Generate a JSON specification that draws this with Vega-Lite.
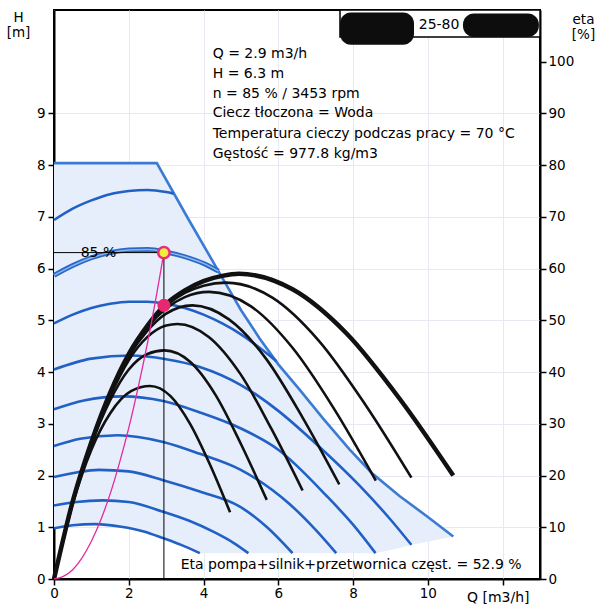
{
"$schema": "https://vega.github.io/schema/vega-lite/v6.json",
"width": 486, "height": 569,
"autosize": {"type": "none"},
"padding": {"left": 54, "top": 10, "right": 56, "bottom": 29},
"background": "white",
"config": {
  "view": {"stroke": "black", "strokeWidth": 2},
  "font": "DejaVu Sans",
  "axis": {"labelFont": "DejaVu Sans", "labelFontSize": 13.5, "labelColor": "black", "titleFont": "DejaVu Sans", "titleFontWeight": "normal", "titleColor": "black", "titleFontSize": 13.5, "domainColor": "black", "domainWidth": 2, "tickColor": "black", "tickWidth": 1.5, "tickSize": 6, "gridColor": "#e8e8f2", "gridWidth": 1}
},
"datasets": {
  "fill": [
    {"Q":0,"top":8.04,"bot":0.98},{"Q":0.5,"top":8.04,"bot":1.04},{"Q":1.1,"top":8.04,"bot":1.06},{"Q":1.8,"top":8.04,"bot":1.01},{"Q":2.4,"top":8.04,"bot":0.92},{"Q":2.75,"top":8.04,"bot":0.84},{"Q":2.92,"top":7.82,"bot":0.79},{"Q":3.4,"top":7.21,"bot":0.66},{"Q":3.6,"top":6.95,"bot":0.6},{"Q":3.9,"top":6.57,"bot":0.5},{"Q":4.44,"top":5.9,"bot":0.5},{"Q":5.0,"top":5.2,"bot":0.5},{"Q":5.5,"top":4.65,"bot":0.5},{"Q":6.0,"top":4.15,"bot":0.5},{"Q":6.58,"top":3.65,"bot":0.5},{"Q":7.2,"top":3.1,"bot":0.5},{"Q":7.91,"top":2.5,"bot":0.5},{"Q":8.6,"top":1.99,"bot":0.5},{"Q":9.25,"top":1.6,"bot":0.6},{"Q":9.56,"top":1.43,"bot":0.66},{"Q":10.0,"top":1.2,"bot":0.72},{"Q":10.68,"top":0.82,"bot":0.82}
  ],
  "env": [
    {"Q":0,"H":8.04},{"Q":2.75,"H":8.04},{"Q":3.6,"H":6.95},{"Q":4.44,"H":5.9},{"Q":5.0,"H":5.2},{"Q":5.5,"H":4.65},{"Q":6.0,"H":4.15},{"Q":6.58,"H":3.65},{"Q":7.2,"H":3.1},{"Q":7.91,"H":2.5},{"Q":8.5,"H":2.05},{"Q":9.25,"H":1.6},{"Q":10.0,"H":1.2},{"Q":10.68,"H":0.82}
  ],
  "blue": [
    {"c":"b1","Q":0,"H":0.98},{"c":"b1","Q":0.5,"H":1.04},{"c":"b1","Q":1.1,"H":1.06},{"c":"b1","Q":1.8,"H":1.01},{"c":"b1","Q":2.4,"H":0.92},{"c":"b1","Q":2.92,"H":0.79},{"c":"b1","Q":3.4,"H":0.66},{"c":"b1","Q":3.9,"H":0.5},
    {"c":"b2","Q":0,"H":1.42},{"c":"b2","Q":0.6,"H":1.49},{"c":"b2","Q":1.3,"H":1.52},{"c":"b2","Q":2.0,"H":1.49},{"c":"b2","Q":2.92,"H":1.3},{"c":"b2","Q":3.6,"H":1.13},{"c":"b2","Q":4.3,"H":0.9},{"c":"b2","Q":4.8,"H":0.7},{"c":"b2","Q":5.2,"H":0.5},
    {"c":"b3","Q":0,"H":1.97},{"c":"b3","Q":0.6,"H":2.06},{"c":"b3","Q":1.2,"H":2.11},{"c":"b3","Q":2.0,"H":2.08},{"c":"b3","Q":2.92,"H":1.91},{"c":"b3","Q":3.9,"H":1.69},{"c":"b3","Q":4.97,"H":1.4},{"c":"b3","Q":5.7,"H":1.0},{"c":"b3","Q":6.38,"H":0.5},
    {"c":"b4","Q":0,"H":2.57},{"c":"b4","Q":0.7,"H":2.71},{"c":"b4","Q":1.7,"H":2.78},{"c":"b4","Q":2.92,"H":2.65},{"c":"b4","Q":3.9,"H":2.42},{"c":"b4","Q":4.97,"H":2.12},{"c":"b4","Q":6.3,"H":1.45},{"c":"b4","Q":7.0,"H":0.95},{"c":"b4","Q":7.55,"H":0.5},
    {"c":"b5","Q":0,"H":3.28},{"c":"b5","Q":0.8,"H":3.45},{"c":"b5","Q":1.85,"H":3.53},{"c":"b5","Q":2.92,"H":3.44},{"c":"b5","Q":3.9,"H":3.22},{"c":"b5","Q":4.97,"H":2.92},{"c":"b5","Q":6.0,"H":2.5},{"c":"b5","Q":7.3,"H":1.6},{"c":"b5","Q":8.0,"H":1.05},{"c":"b5","Q":8.6,"H":0.5},
    {"c":"b6","Q":0,"H":4.05},{"c":"b6","Q":1.0,"H":4.26},{"c":"b6","Q":2.05,"H":4.32},{"c":"b6","Q":3.0,"H":4.25},{"c":"b6","Q":3.9,"H":4.1},{"c":"b6","Q":5.0,"H":3.75},{"c":"b6","Q":6.0,"H":3.25},{"c":"b6","Q":7.0,"H":2.62},{"c":"b6","Q":8.18,"H":1.8},{"c":"b6","Q":9.0,"H":1.15},{"c":"b6","Q":9.56,"H":0.66},
    {"c":"b7","Q":0,"H":4.94},{"c":"b7","Q":0.5,"H":5.11},{"c":"b7","Q":1,"H":5.24},{"c":"b7","Q":1.5,"H":5.32},{"c":"b7","Q":2,"H":5.36},{"c":"b7","Q":2.5,"H":5.36},{"c":"b7","Q":3,"H":5.32},{"c":"b7","Q":3.5,"H":5.24},{"c":"b7","Q":4,"H":5.11},{"c":"b7","Q":4.5,"H":4.94},{"c":"b7","Q":5,"H":4.73},{"c":"b7","Q":5.5,"H":4.47},{"c":"b7","Q":5.95,"H":4.21},
    {"c":"b8","Q":0,"H":6.94},{"c":"b8","Q":0.5,"H":7.16},{"c":"b8","Q":1,"H":7.32},{"c":"b8","Q":1.5,"H":7.44},{"c":"b8","Q":2,"H":7.5},{"c":"b8","Q":2.5,"H":7.52},{"c":"b8","Q":3,"H":7.48},{"c":"b8","Q":3.2,"H":7.45}
  ],
  "b85": [
    {"Q":0,"H":5.87},{"Q":0.5,"H":6.06},{"Q":1,"H":6.21},{"Q":1.5,"H":6.31},{"Q":2,"H":6.36},{"Q":2.5,"H":6.37},{"Q":3,"H":6.32},{"Q":3.5,"H":6.23},{"Q":4,"H":6.1},{"Q":4.4,"H":5.95}
  ],
  "eta": [
    {"c":1,"Q":0,"eta":0},{"c":1,"Q":0.5,"eta":14.5},{"c":1,"Q":1.0,"eta":25},{"c":1,"Q":1.5,"eta":32},{"c":1,"Q":2.06,"eta":36.3},{"c":1,"Q":2.57,"eta":37.3},{"c":1,"Q":3.11,"eta":35.4},{"c":1,"Q":3.64,"eta":30},{"c":1,"Q":4.18,"eta":22},{"c":1,"Q":4.71,"eta":12.9},
    {"c":2,"Q":0,"eta":0},{"c":2,"Q":0.5,"eta":14.8},{"c":2,"Q":1.0,"eta":26},{"c":2,"Q":1.5,"eta":34.5},{"c":2,"Q":2.0,"eta":40.5},{"c":2,"Q":2.5,"eta":43.5},{"c":2,"Q":2.95,"eta":44.2},{"c":2,"Q":3.64,"eta":42},{"c":2,"Q":4.32,"eta":35.6},{"c":2,"Q":5.0,"eta":26.1},{"c":2,"Q":5.69,"eta":15.3},
    {"c":3,"Q":0,"eta":0},{"c":3,"Q":0.5,"eta":14.9},{"c":3,"Q":1.0,"eta":26.3},{"c":3,"Q":1.5,"eta":35.3},{"c":3,"Q":2.0,"eta":42.3},{"c":3,"Q":2.5,"eta":46.8},{"c":3,"Q":3.0,"eta":49},{"c":3,"Q":3.3,"eta":49.3},{"c":3,"Q":4.14,"eta":46.8},{"c":3,"Q":4.98,"eta":39.7},{"c":3,"Q":5.81,"eta":29.1},{"c":3,"Q":6.65,"eta":17.1},
    {"c":4,"Q":0,"eta":0},{"c":4,"Q":0.5,"eta":15},{"c":4,"Q":1.0,"eta":26.4},{"c":4,"Q":1.5,"eta":35.7},{"c":4,"Q":2.0,"eta":43},{"c":4,"Q":2.5,"eta":48},{"c":4,"Q":3.0,"eta":51.3},{"c":4,"Q":3.7,"eta":52.9},{"c":4,"Q":4.68,"eta":50.2},{"c":4,"Q":5.67,"eta":42.6},{"c":4,"Q":6.65,"eta":31.2},{"c":4,"Q":7.63,"eta":18.3},
    {"c":5,"Q":0,"eta":0},{"c":5,"Q":0.5,"eta":15},{"c":5,"Q":1.0,"eta":26.5},{"c":5,"Q":1.5,"eta":35.9},{"c":5,"Q":2.0,"eta":43.3},{"c":5,"Q":2.5,"eta":48.7},{"c":5,"Q":3.0,"eta":52.3},{"c":5,"Q":3.5,"eta":54.5},{"c":5,"Q":4.15,"eta":55.5},{"c":5,"Q":5.27,"eta":52.7},{"c":5,"Q":6.38,"eta":44.7},{"c":5,"Q":7.5,"eta":32.8},{"c":5,"Q":8.61,"eta":19},
    {"c":6,"Q":0,"eta":0},{"c":6,"Q":0.5,"eta":15},{"c":6,"Q":1.0,"eta":26.5},{"c":6,"Q":1.5,"eta":36},{"c":6,"Q":2.0,"eta":43.4},{"c":6,"Q":2.5,"eta":48.9},{"c":6,"Q":3.0,"eta":52.8},{"c":6,"Q":3.5,"eta":55.3},{"c":6,"Q":4.0,"eta":56.7},{"c":6,"Q":4.6,"eta":57.3},{"c":6,"Q":5.84,"eta":54.4},{"c":6,"Q":7.08,"eta":46.1},{"c":6,"Q":8.32,"eta":33.8},{"c":6,"Q":9.56,"eta":19.6},
    {"c":7,"Q":0,"eta":0},{"c":7,"Q":0.5,"eta":15},{"c":7,"Q":1.0,"eta":26.5},{"c":7,"Q":1.5,"eta":36},{"c":7,"Q":2.0,"eta":43.5},{"c":7,"Q":2.5,"eta":49},{"c":7,"Q":2.97,"eta":53},{"c":7,"Q":3.5,"eta":55.8},{"c":7,"Q":4.0,"eta":57.6},{"c":7,"Q":4.5,"eta":58.6},{"c":7,"Q":4.95,"eta":59},{"c":7,"Q":6.38,"eta":56},{"c":7,"Q":7.82,"eta":47.5},{"c":7,"Q":9.25,"eta":34.8},{"c":7,"Q":10.68,"eta":20}
  ],
  "sys": [
    {"Q":0,"H":0},{"Q":0.25,"H":0.05},{"Q":0.5,"H":0.18},{"Q":0.75,"H":0.41},{"Q":1.0,"H":0.73},{"Q":1.25,"H":1.14},{"Q":1.5,"H":1.64},{"Q":1.75,"H":2.24},{"Q":2.0,"H":2.92},{"Q":2.25,"H":3.7},{"Q":2.5,"H":4.56},{"Q":2.75,"H":5.52},{"Q":2.94,"H":6.31}
  ],
  "op": [{"Q0":0,"Q":2.94,"H0":0,"H":6.31,"He":5.29}],
  "box": [{"x1":7.65,"x2":13,"y1":10.48,"y2":11}],
  "blobs": [{"x1":7.65,"x2":9.63,"y1":10.33,"y2":10.95},{"x1":10.94,"x2":12.97,"y1":10.48,"y2":10.93}],
  "txtL": [
    {"Q":4.245,"H":10.14,"t":"Q = 2.9 m3/h"},
    {"Q":4.245,"H":9.77,"t":"H = 6.3 m"},
    {"Q":4.245,"H":9.38,"t":"n = 85 % / 3453 rpm"},
    {"Q":4.245,"H":9.0,"t":"Ciecz tłoczona = Woda"},
    {"Q":4.245,"H":8.61,"t":"Temperatura cieczy podczas pracy = 70 °C"},
    {"Q":4.245,"H":8.22,"t":"Gęstość = 977.8 kg/m3"},
    {"Q":3.39,"H":0.27,"t":"Eta pompa+silnik+przetwornica częst. = 52.9 %"}
  ],
  "txtC": [
    {"Q":1.19,"H":6.3,"t":"85 %"},
    {"Q":10.3,"H":10.71,"t":"25-80"}
  ]
},
"layer": [
  {
    "data": {"name": "fill"},
    "mark": {"type": "area", "color": "#e5eefa"},
    "encoding": {
      "x": {"field": "Q", "type": "quantitative", "scale": {"domain": [0, 13], "nice": false, "zero": false},
            "axis": {"values": [0,2,4,6,8,10,12], "labelExpr": "datum.value == 12 ? '' : datum.label", "title": "Q [m3/h]", "titleAlign": "right", "titleX": 475, "titleY": 22, "titleBaseline": "alphabetic", "titleFontSize": 14, "labelPadding": 1, "grid": true, "labelFlush": false}},
      "y": {"field": "top", "type": "quantitative", "scale": {"domain": [0, 11], "nice": false, "zero": false},
            "axis": {"orient": "left", "values": [0,1,2,3,4,5,6,7,8,9], "title": ["H", "[m]"], "titleAngle": 0, "titleAlign": "center", "titleBaseline": "top", "titleX": -36, "titleY": 0, "titleLineHeight": 15, "labelPadding": 3, "grid": true}},
      "y2": {"field": "bot"}
    }
  },
  {
    "data": {"name": "env"},
    "mark": {"type": "line", "color": "#3b7bd4", "strokeWidth": 2.6},
    "encoding": {
      "x": {"field": "Q", "type": "quantitative"},
      "y": {"field": "H", "type": "quantitative", "scale": {"domain": [0, 11], "nice": false, "zero": false}, "axis": null}
    }
  },
  {
    "data": {"name": "blue"},
    "mark": {"type": "line", "color": "#2160c4", "strokeWidth": 2.6, "interpolate": "monotone"},
    "encoding": {
      "x": {"field": "Q", "type": "quantitative"},
      "y": {"field": "H", "type": "quantitative", "scale": {"domain": [0, 11], "nice": false, "zero": false}, "axis": null},
      "detail": {"field": "c", "type": "nominal"}
    }
  },
  {
    "data": {"name": "b85"},
    "mark": {"type": "line", "color": "#2a68c8", "strokeWidth": 4.8, "interpolate": "monotone"},
    "encoding": {
      "x": {"field": "Q", "type": "quantitative"},
      "y": {"field": "H", "type": "quantitative", "scale": {"domain": [0, 11], "nice": false, "zero": false}, "axis": null}
    }
  },
  {
    "data": {"name": "b85"},
    "mark": {"type": "line", "color": "#8db6ec", "strokeWidth": 1.4, "interpolate": "monotone"},
    "encoding": {
      "x": {"field": "Q", "type": "quantitative"},
      "y": {"field": "H", "type": "quantitative", "scale": {"domain": [0, 11], "nice": false, "zero": false}, "axis": null}
    }
  },
  {
    "data": {"name": "eta"},
    "transform": [{"filter": "datum.c < 7"}],
    "mark": {"type": "line", "color": "#111111", "strokeWidth": 2.6, "interpolate": "monotone"},
    "encoding": {
      "x": {"field": "Q", "type": "quantitative"},
      "y": {"field": "eta", "type": "quantitative", "scale": {"domain": [0, 110], "nice": false, "zero": false},
            "axis": {"orient": "right", "values": [0,10,20,30,40,50,60,70,80,90,100], "title": ["eta", "[%]"], "titleAngle": 0, "titleAlign": "center", "titleBaseline": "top", "titleX": 43, "titleY": 2, "titleLineHeight": 15, "labelPadding": 2, "grid": false}},
      "detail": {"field": "c", "type": "nominal"}
    }
  },
  {
    "data": {"name": "eta"},
    "transform": [{"filter": "datum.c == 7"}],
    "mark": {"type": "line", "color": "#111111", "strokeWidth": 4.5, "interpolate": "monotone"},
    "encoding": {
      "x": {"field": "Q", "type": "quantitative"},
      "y": {"field": "eta", "type": "quantitative", "scale": {"domain": [0, 110], "nice": false, "zero": false}, "axis": null}
    }
  },
  {
    "data": {"name": "sys"},
    "mark": {"type": "line", "color": "#e62a9e", "strokeWidth": 1.3, "interpolate": "monotone"},
    "encoding": {
      "x": {"field": "Q", "type": "quantitative"},
      "y": {"field": "H", "type": "quantitative", "scale": {"domain": [0, 11], "nice": false, "zero": false}, "axis": null}
    }
  },
  {
    "data": {"name": "op"},
    "mark": {"type": "rule", "color": "black", "strokeWidth": 1},
    "encoding": {
      "x": {"field": "Q0", "type": "quantitative"},
      "x2": {"field": "Q"},
      "y": {"field": "H", "type": "quantitative", "scale": {"domain": [0, 11], "nice": false, "zero": false}, "axis": null}
    }
  },
  {
    "data": {"name": "op"},
    "mark": {"type": "rule", "color": "black", "strokeWidth": 1},
    "encoding": {
      "x": {"field": "Q", "type": "quantitative"},
      "y": {"field": "H0", "type": "quantitative", "scale": {"domain": [0, 11], "nice": false, "zero": false}, "axis": null},
      "y2": {"field": "H"}
    }
  },
  {
    "data": {"name": "op"},
    "mark": {"type": "point", "shape": "circle", "filled": true, "fill": "#e8286e", "stroke": null, "size": 170, "opacity": 1},
    "encoding": {
      "x": {"field": "Q", "type": "quantitative"},
      "y": {"field": "He", "type": "quantitative", "scale": {"domain": [0, 11], "nice": false, "zero": false}, "axis": null}
    }
  },
  {
    "data": {"name": "op"},
    "mark": {"type": "point", "shape": "circle", "filled": true, "fill": "#f0ee3c", "stroke": "#e62e7d", "strokeWidth": 2.5, "size": 130, "opacity": 1},
    "encoding": {
      "x": {"field": "Q", "type": "quantitative"},
      "y": {"field": "H", "type": "quantitative", "scale": {"domain": [0, 11], "nice": false, "zero": false}, "axis": null}
    }
  },
  {
    "data": {"name": "txtL"},
    "mark": {"type": "text", "align": "left", "baseline": "middle", "font": "DejaVu Sans", "fontSize": 14, "color": "black"},
    "encoding": {
      "x": {"field": "Q", "type": "quantitative"},
      "y": {"field": "H", "type": "quantitative", "scale": {"domain": [0, 11], "nice": false, "zero": false}, "axis": null},
      "text": {"field": "t", "type": "nominal"}
    }
  },
  {
    "data": {"name": "box"},
    "mark": {"type": "rect", "fill": "white", "stroke": "black", "strokeWidth": 1.5},
    "encoding": {
      "x": {"field": "x1", "type": "quantitative"},
      "x2": {"field": "x2"},
      "y": {"field": "y1", "type": "quantitative", "scale": {"domain": [0, 11], "nice": false, "zero": false}, "axis": null},
      "y2": {"field": "y2"}
    }
  },
  {
    "data": {"name": "blobs"},
    "mark": {"type": "rect", "fill": "#0d0d0d", "cornerRadius": 11},
    "encoding": {
      "x": {"field": "x1", "type": "quantitative"},
      "x2": {"field": "x2"},
      "y": {"field": "y1", "type": "quantitative", "scale": {"domain": [0, 11], "nice": false, "zero": false}, "axis": null},
      "y2": {"field": "y2"}
    }
  },
  {
    "data": {"name": "txtC"},
    "mark": {"type": "text", "align": "center", "baseline": "middle", "font": "DejaVu Sans", "fontSize": 14, "color": "black"},
    "encoding": {
      "x": {"field": "Q", "type": "quantitative"},
      "y": {"field": "H", "type": "quantitative", "scale": {"domain": [0, 11], "nice": false, "zero": false}, "axis": null},
      "text": {"field": "t", "type": "nominal"}
    }
  }
],
"resolve": {"scale": {"y": "independent"}}
}
